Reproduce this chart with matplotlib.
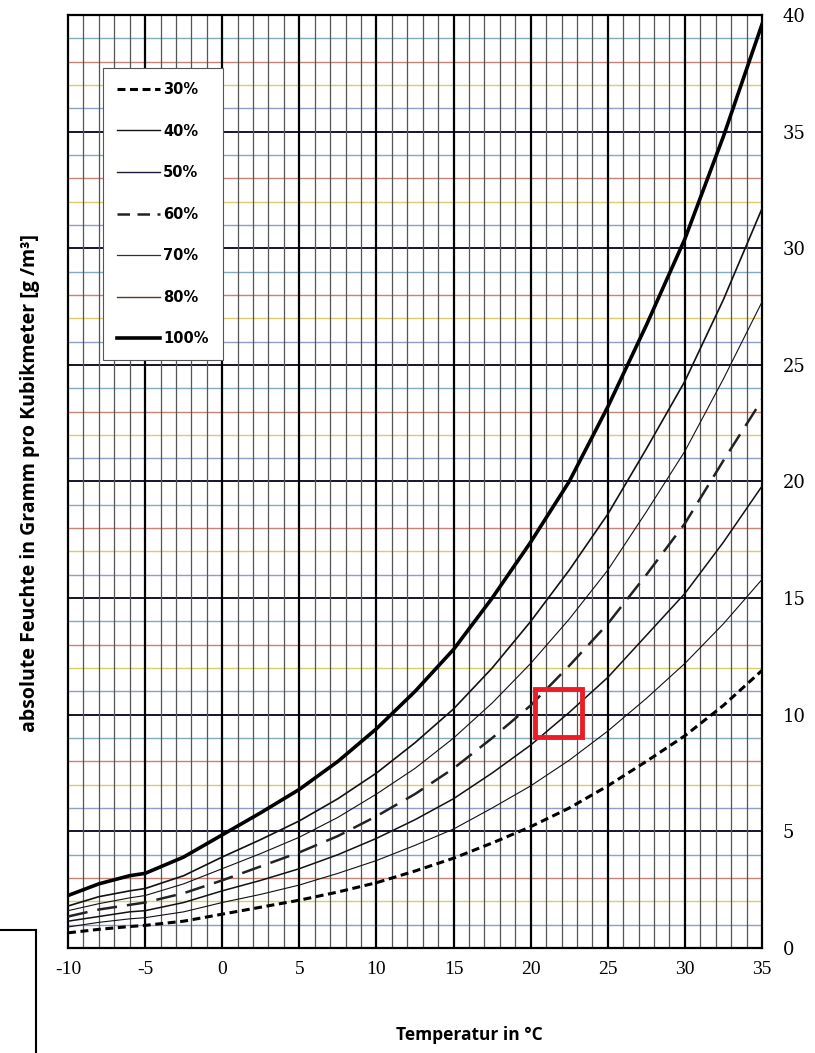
import numpy as np
import matplotlib.pyplot as plt
from matplotlib.lines import Line2D
from matplotlib.patches import Rectangle

temp = [-10, -8, -6, -5, -2.5, 0, 2.5, 5, 7.5, 10, 12.5, 15, 17.5, 20, 22.5, 25, 27.5, 30, 32.5, 35]
rh100 = [2.25, 2.75, 3.1, 3.2, 3.9, 4.85, 5.8, 6.8, 8.0, 9.4, 11.0, 12.8, 15.0, 17.4, 20.0, 23.2, 26.7, 30.4, 34.8, 39.6]
rh80 = [1.8, 2.2, 2.45, 2.55, 3.1, 3.9, 4.65, 5.45, 6.4, 7.5, 8.8, 10.25, 12.0, 14.0, 16.2, 18.6, 21.4, 24.3, 27.8, 31.7]
rh70 = [1.6, 1.9, 2.15, 2.25, 2.75, 3.4, 4.05, 4.75, 5.6, 6.6, 7.7, 9.0, 10.5, 12.2, 14.1, 16.2, 18.7, 21.3, 24.4, 27.7]
rh60 = [1.35, 1.65, 1.85, 1.95, 2.35, 2.9, 3.5, 4.1, 4.8, 5.65, 6.6, 7.7, 9.0, 10.4, 12.1, 13.9, 16.0, 18.2, 20.9, 23.5]
rh50 = [1.15, 1.35, 1.55, 1.6, 1.95, 2.45, 2.9, 3.4, 4.0, 4.7, 5.5, 6.4, 7.5, 8.7, 10.1, 11.6, 13.4, 15.2, 17.4, 19.8]
rh40 = [0.9, 1.1, 1.25, 1.3, 1.55, 1.95, 2.3, 2.7, 3.2, 3.75, 4.4, 5.1, 6.0, 6.95, 8.05, 9.3, 10.7, 12.2, 13.9, 15.8]
rh30 = [0.65, 0.8, 0.92, 0.97, 1.15, 1.45, 1.75, 2.05, 2.4, 2.8, 3.3, 3.85, 4.5, 5.2, 6.0, 6.95, 8.0, 9.1, 10.4, 11.9]

labels = ['30%', '40%', '50%', '60%', '70%', '80%', '100%']
x_ticks = [-10, -5, 0, 5, 10, 15, 20, 25, 30, 35]
y_ticks = [0, 5, 10, 15, 20, 25, 30, 35, 40]

# markierter Bereich
box_x, box_y, box_w, box_h = 20.3, 9.05, 3.0, 2.05

fig = plt.figure(figsize=(8.15, 10.53), dpi=100)
ax = fig.add_axes([68 / 815, 1 - 948 / 1053, 694 / 815, 933 / 1053])

# Millimeterpapier-Raster
minor_h_colors = ['#8f9ec2', '#dacd70', '#c68474', '#84abba']
for v in range(1, 40):
    if v % 5 == 0:
        ax.axhline(v, color='#15152a', lw=1.4, zorder=1)
    else:
        ax.axhline(v, color=minor_h_colors[(v % 5) - 1], lw=1.0, zorder=1)
for t in range(-9, 35):
    if t % 5 == 0:
        ax.axvline(t, color='black', lw=1.6, zorder=1)
    else:
        ax.axvline(t, color='#555555', lw=0.9, zorder=1)

ax.plot(temp, rh30, color='black', lw=2.2, ls=(0, (2.6, 1.5)), zorder=3)
ax.plot(temp, rh40, color='#111111', lw=0.8, zorder=3)
ax.plot(temp, rh50, color='#111111', lw=1.1, zorder=3)
ax.plot(temp, rh60, color='#222222', lw=1.8, ls=(0, (8, 4)), zorder=3)
ax.plot(temp, rh70, color='#111111', lw=0.8, zorder=3)
ax.plot(temp, rh80, color='#111111', lw=1.2, zorder=3)
ax.plot(temp, rh100, color='black', lw=2.6, zorder=3)

ax.add_patch(Rectangle((box_x, box_y), box_w, box_h, fill=False,
                       edgecolor='#ec1c24', lw=3.5, zorder=5))

ax.set_xlim(-10, 35)
ax.set_ylim(0, 40)
ax.set_xticks(x_ticks)
ax.set_yticks(y_ticks)
ax.set_xticklabels([str(t) for t in x_ticks], family='Liberation Serif', fontsize=14)
ax.set_yticklabels([str(t) for t in y_ticks], family='DejaVu Serif', fontsize=13)
ax.yaxis.tick_right()
ax.tick_params(axis='x', length=0, pad=9)
ax.tick_params(axis='y', length=0, pad=15)
for s in ax.spines.values():
    s.set_linewidth(1.6)
    s.set_color('black')

handles = [
    Line2D([], [], color='black', lw=2.2, ls=(0, (2.6, 1.5))),
    Line2D([], [], color='#111111', lw=1.0),
    Line2D([], [], color='#1a1a3a', lw=1.0),
    Line2D([], [], color='#222222', lw=1.8, ls=(0, (5, 3))),
    Line2D([], [], color='#1a3a4a', lw=0.9),
    Line2D([], [], color='#5a3a2a', lw=1.0),
    Line2D([], [], color='black', lw=2.6),
]
leg = ax.legend(handles, labels, loc='upper left', bbox_to_anchor=(0.05, 0.943),
                prop={'family': 'DejaVu Sans', 'weight': 'bold', 'size': 10.5},
                labelspacing=1.82, handlelength=3.0, handletextpad=0.2,
                borderpad=0.95, borderaxespad=0, fancybox=False, framealpha=1,
                edgecolor='#555555')
leg.get_frame().set_linewidth(0.8)
leg.set_zorder(6)

fig.text(469 / 815, 1 - 1035 / 1053, 'Temperatur in °C', family='Open Sans',
         weight='bold', fontsize=12.5, ha='center', va='center')
fig.text(30 / 815, 1 - 483 / 1053, 'absolute Feuchte in Gramm pro Kubikmeter [g /m³]',
         family='Open Sans', weight='bold', fontsize=14, rotation=90,
         ha='center', va='center')

# Rahmenrest unten links
fig.add_artist(Line2D([0, 36 / 815], [1 - 930 / 1053, 1 - 930 / 1053],
                      transform=fig.transFigure, color='black', lw=1.5))
fig.add_artist(Line2D([36 / 815, 36 / 815], [1 - 930 / 1053, 0],
                      transform=fig.transFigure, color='black', lw=1.5))

fig.savefig('out.png', dpi=100)
